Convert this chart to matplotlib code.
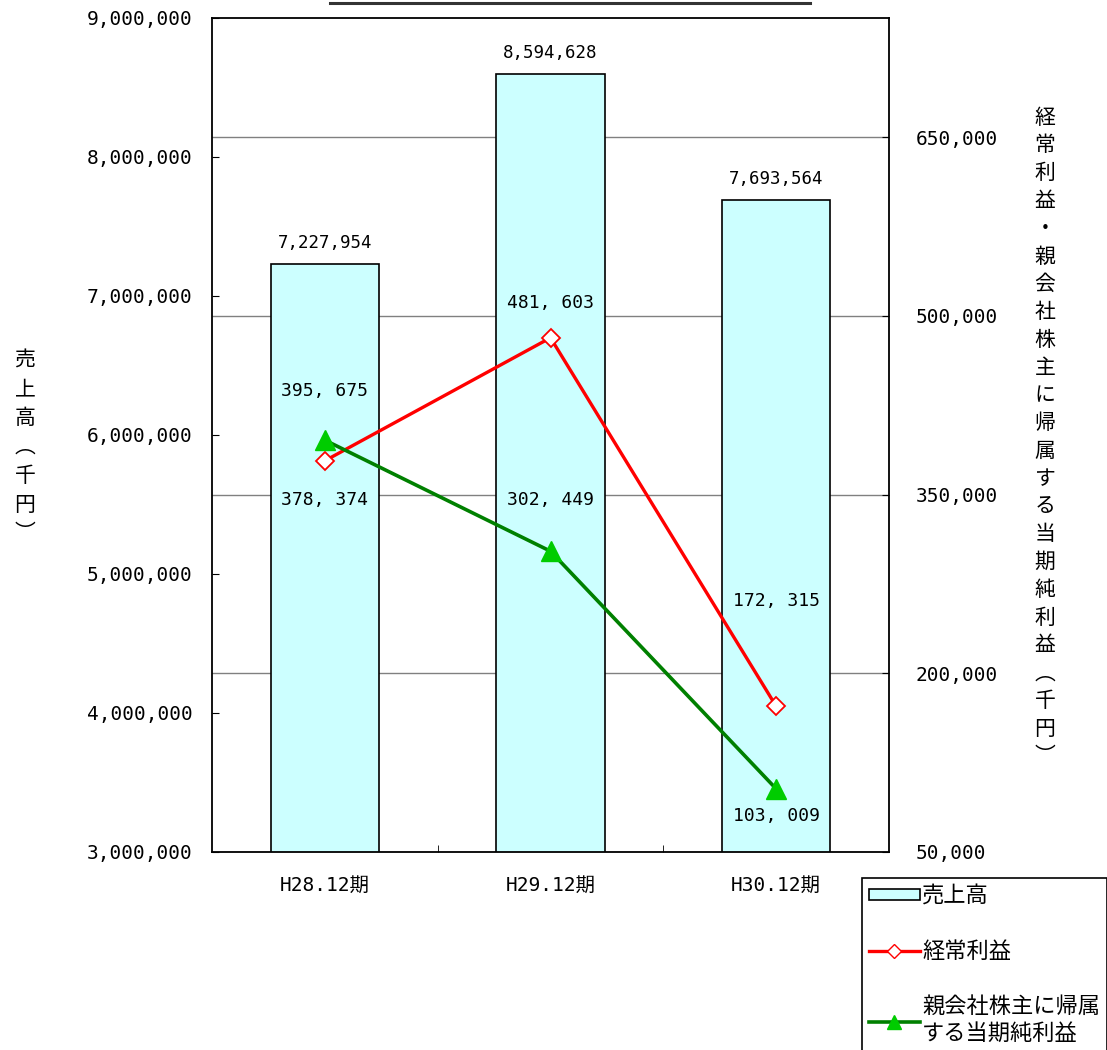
import numpy as np
import matplotlib.pyplot as plt
from matplotlib.lines import Line2D
from matplotlib.patches import Patch
from matplotlib.ticker import FuncFormatter

periods = ['H28.12期', 'H29.12期', 'H30.12期']
sales = [7227954, 8594628, 7693564]
ordinary_profit = [378374, 481603, 172315]
net_income = [395675, 302449, 103009]

sales_ticks = [3000000, 4000000, 5000000, 6000000, 7000000, 8000000, 9000000]
profit_ticks = [50000, 200000, 350000, 500000, 650000]

NUM_FONT = ['DejaVu Sans Mono', 'Noto Sans CJK JP']
JP_FONT = ['Noto Sans CJK JP', 'DejaVu Sans']

BAR_FILL = '#ccffff'
RED = '#ff0000'
GREEN = '#008000'
GREEN_FILL = '#00cc00'

fig = plt.figure(figsize=(11.07, 10.5), dpi=100)
rect = [212 / 1107, 1 - 852 / 1050, (889 - 212) / 1107, (852 - 18) / 1050]

x = np.arange(len(periods))
comma = FuncFormatter(lambda v, p: f'{int(v):,}')

# grid layer (profit scale), kept under the bars
ax_grid = fig.add_axes(rect, zorder=0)
ax_grid.set_xlim(-0.5, 2.5)
ax_grid.set_ylim(50000, 750000)
ax_grid.set_yticks(profit_ticks)
ax_grid.grid(axis='y', color='#808080', linewidth=1)
ax_grid.tick_params(left=False, labelleft=False, bottom=False, labelbottom=False)
for s in ax_grid.spines.values():
    s.set_visible(False)

# bars on the sales scale
ax = fig.add_axes(rect, zorder=1)
ax.patch.set_visible(False)
ax.bar(x, sales, width=0.48, color=BAR_FILL, edgecolor='black', linewidth=1.2)
ax.set_xlim(-0.5, 2.5)
ax.set_ylim(3000000, 9000000)
ax.set_yticks(sales_ticks)
ax.yaxis.set_major_formatter(comma)
ax.tick_params(axis='y', direction='in', length=5, pad=14, labelsize=14)
ax.set_xticks(x)
ax.set_xticklabels(periods)
ax.set_xticks([0.5, 1.5], minor=True)
ax.tick_params(axis='x', which='major', length=0, pad=17, labelsize=14)
ax.tick_params(axis='x', which='minor', direction='in', length=5)
for lab in ax.get_yticklabels() + ax.get_xticklabels():
    lab.set_family(NUM_FONT)
for s in ax.spines.values():
    s.set_linewidth(1.3)

for xi, v in zip(x, sales):
    ax.annotate(f'{v:,}', (xi, v), xytext=(0, 21), textcoords='offset pixels',
                ha='center', va='center', fontsize=12.5, family='DejaVu Sans Mono')

# profit lines on the right scale
ax2 = fig.add_axes(rect, zorder=2)
ax2.patch.set_visible(False)
ax2.set_xlim(-0.5, 2.5)
ax2.set_ylim(50000, 750000)
ax2.set_yticks(profit_ticks)
ax2.yaxis.set_major_formatter(comma)
ax2.yaxis.tick_right()
ax2.tick_params(axis='y', direction='in', length=5, pad=19, labelsize=14)
ax2.tick_params(bottom=False, labelbottom=False)
for lab in ax2.get_yticklabels():
    lab.set_family(NUM_FONT)
for s in ax2.spines.values():
    s.set_visible(False)

ax2.plot(x, ordinary_profit, color=RED, linewidth=2.4, marker='D', markersize=9,
         markerfacecolor='white', markeredgecolor=RED, markeredgewidth=1.3, zorder=3)
ax2.plot(x, net_income, color=GREEN, linewidth=2.6, marker='^', markersize=14,
         markerfacecolor=GREEN_FILL, markeredgecolor=GREEN_FILL, zorder=4)

red_offsets = [-39, 35, 105]
green_offsets = [49, 51, -27]
for xi, v, dy in zip(x, ordinary_profit, red_offsets):
    ax2.annotate(f'{v:,}'.replace(',', ', '), (xi, v), xytext=(0, dy),
                 textcoords='offset pixels', ha='center', va='center',
                 fontsize=13, family=NUM_FONT)
for xi, v, dy in zip(x, net_income, green_offsets):
    ax2.annotate(f'{v:,}'.replace(',', ', '), (xi, v), xytext=(0, dy),
                 textcoords='offset pixels', ha='center', va='center',
                 fontsize=13, family=NUM_FONT)

# stacked vertical axis titles
left_title = '売上高︵千円︶'
right_title = '経常利益・親会社株主に帰属する当期純利益︵千円︶'
fig.text(25 / 1107, 1 - 447 / 1050, '\n'.join(left_title), ha='center', va='center',
         fontsize=15, family=JP_FONT, linespacing=1.4)
fig.text(1045 / 1107, 1 - 437 / 1050, '\n'.join(right_title), ha='center', va='center',
         fontsize=15, family=JP_FONT, linespacing=1.34)

# title underline along the top edge
fig.add_artist(Line2D([330 / 1107, 810 / 1107], [1 - 3 / 1050, 1 - 3 / 1050],
                      color='#333333', linewidth=2.2))

handles = [
    Patch(facecolor=BAR_FILL, edgecolor='black', linewidth=1.2),
    Line2D([], [], color=RED, linewidth=2.4, marker='D', markersize=7,
           markerfacecolor='white', markeredgecolor=RED),
    Line2D([], [], color=GREEN, linewidth=2.6, marker='^', markersize=10,
           markerfacecolor=GREEN_FILL, markeredgecolor=GREEN_FILL),
]
labels = ['売上高', '経常利益', '親会社株主に帰属\nする当期純利益']
leg = fig.legend(handles, labels, loc='upper left',
                 bbox_to_anchor=(862 / 1107, 1 - 878 / 1050),
                 prop={'family': JP_FONT, 'size': 16}, frameon=True,
                 fancybox=False, edgecolor='black', framealpha=1,
                 handlelength=2.3, handleheight=0.42, handletextpad=0.1,
                 labelspacing=1.45, borderpad=0.3, borderaxespad=0)
leg.get_frame().set_linewidth(1.2)

fig.savefig('out.png', dpi=100)
